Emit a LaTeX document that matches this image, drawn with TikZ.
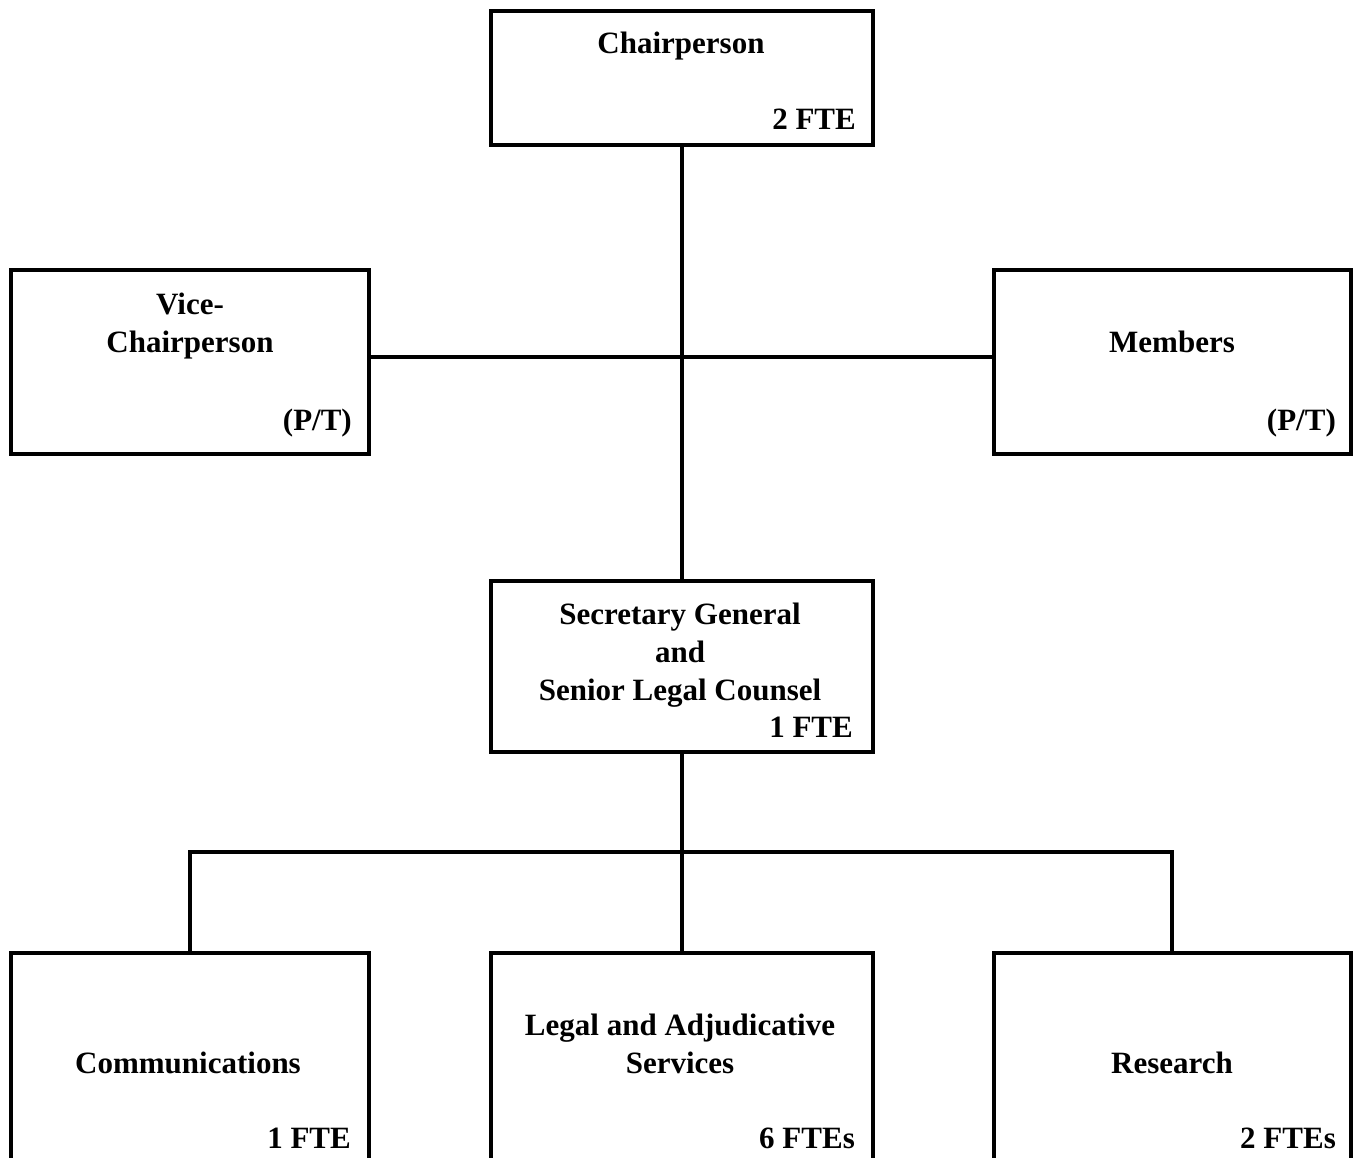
\documentclass[tikz,border=0pt]{standalone}
\usepackage{fontspec}
\setmainfont{Liberation Serif}
\begin{document}
\begin{tikzpicture}[x=1pt,y=-1pt,
  box/.style={draw, line width=4pt, rectangle, inner sep=0pt, outer sep=0pt},
  conn/.style={line width=4pt, line join=miter},
  title/.style={anchor=base, align=center, inner sep=0pt, font=\fontsize{31}{38}\selectfont\bfseries},
  fte/.style={anchor=base east, inner sep=0pt, font=\fontsize{31}{38}\selectfont\bfseries}]
\useasboundingbox (0,0) rectangle (1354,1158);
\clip (0,0) rectangle (1354,1158);
% boxes
\node[box, minimum width=381.5pt, minimum height=134pt] (chair) at (681.75,78) {};
\node[box, minimum width=358pt, minimum height=183.5pt] (vice) at (190,362.25) {};
\node[box, minimum width=356.5pt, minimum height=183.5pt] (mem) at (1172.25,362.25) {};
\node[box, minimum width=381.5pt, minimum height=171.5pt] (sec) at (681.75,666.25) {};
\node[box, minimum width=358pt, minimum height=300pt] (comm) at (190,1102.5) {};
\node[box, minimum width=381.5pt, minimum height=300pt] (legal) at (681.75,1102.5) {};
\node[box, minimum width=356.5pt, minimum height=300pt] (res) at (1172.25,1102.5) {};
% texts
\node[title] (chairT) at (681,54) {Chairperson};
\node[fte] (chairF) at (856,129.5) {2 FTE};
\node[title] (viceT) at (190,352) {Vice-\\Chairperson};
\node[fte] (viceF) at (352,430) {(P/T)};
\node[title] (memT) at (1172,352.5) {Members};
\node[fte] (memF) at (1336,430) {(P/T)};
\node[title] (secT) at (680,700.5) {Secretary General\\and\\Senior Legal Counsel};
\node[fte] (secF) at (853,737.5) {1 FTE};
\node[title] (commT) at (188,1073.5) {Communications};
\node[fte] (commF) at (351,1148.5) {1 FTE};
\node[title] (legalT) at (680,1073.5) {Legal and Adjudicative\\Services};
\node[fte] (legalF) at (855,1148.5) {6 FTEs};
\node[title] (resT) at (1172,1073.5) {Research};
\node[fte] (resF) at (1336,1148.5) {2 FTEs};
% connectors
\coordinate (cross) at (682,357);
\coordinate (bar) at (682,852);
\draw[conn] (chair.south) -- (sec.north);
\draw[conn] (vice.east |- cross) -- (mem.west |- cross);
\draw[conn] (sec.south) -- (legal.north);
\draw[conn] (comm.north) -- (comm.north |- bar) -- (res.north |- bar) -- (res.north);
\end{tikzpicture}
\end{document}
